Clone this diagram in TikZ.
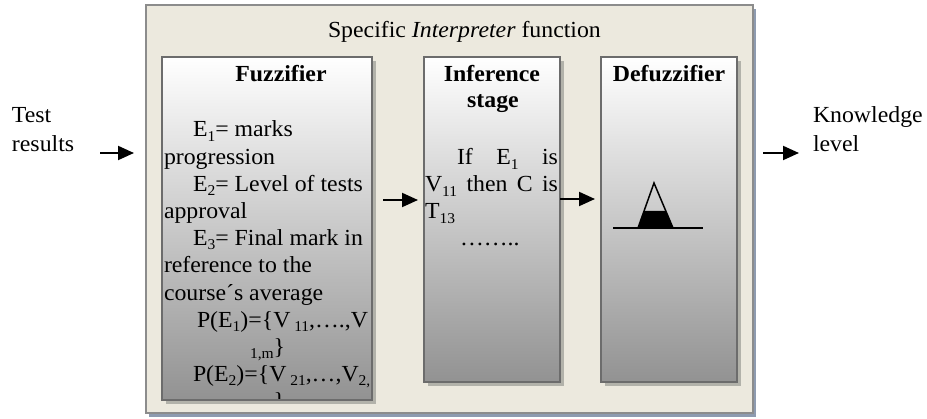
\documentclass[tikz,border=0pt]{standalone}
\usepackage{fontspec}
\setmainfont{Liberation Serif}[FakeStretch=1.035]
\usetikzlibrary{arrows.meta,shadows}
\definecolor{panelbg}{RGB}{236,233,222}
\definecolor{panelrim}{RGB}{140,140,140}
\definecolor{panelshade}{RGB}{142,155,176}
\definecolor{stagerim}{RGB}{108,108,108}
\definecolor{stageshade}{RGB}{178,178,170}
\definecolor{stagelow}{RGB}{146,146,146}
% lowered index, as in E_1 or V_11
\newcommand\lowidx[1]{\raisebox{-0.18em}{\fontsize{15}{15}\selectfont #1}}

\begin{document}
\begin{tikzpicture}[x=1pt,y=-1pt,
  every node/.style={inner sep=0pt,outer sep=0pt,font=\fontsize{23}{27}\selectfont},
  panel/.style={draw=panelrim,line width=2pt,fill=panelbg,rectangle,
     general shadow={fill=panelshade,shadow xshift=3pt,shadow yshift=-4pt}},
  stagebox/.style={draw=stagerim,line width=2.5pt,top color=white,bottom color=stagelow,rectangle,
     general shadow={fill=stageshade,shadow xshift=4pt,shadow yshift=-4pt}},
  txt/.style={anchor=base west},
  head/.style={anchor=base,font=\fontsize{23}{27}\selectfont\bfseries},
  arr/.style={line width=2pt,-{Triangle[length=16pt,width=14pt]}}]

\useasboundingbox (0,0) rectangle (927,419);

% enclosing interpreter panel
\node[panel,minimum width=607pt,minimum height=408pt] (outer) at (449.5,209) {};
\node[txt] (title) at (328,38) {Specific \textit{Interpreter} function};

% the three stages
\node[stagebox,minimum width=210pt,minimum height=343pt] (fuzz) at (267,228.5) {};
\node[stagebox,minimum width=136pt,minimum height=325pt] (inf) at (492,219.5) {};
\node[stagebox,minimum width=136pt,minimum height=325pt] (defz) at (669,219.5) {};

% fuzzifier contents
\node[head] (fhead) at (281,82) {Fuzzifier};
\begin{scope}
  \clip ([shift={(1.3pt,1.3pt)}]fuzz.south west) rectangle ([shift={(-1.3pt,-1.3pt)}]fuzz.north east);
  \node[txt] (f1) at (193,137) {E\lowidx{1}= marks};
  \node[txt] (f2) at (164,164.2) {progression};
  \node[txt] (f3) at (193,191.4) {E\lowidx{2}= Level of tests};
  \node[txt] (f4) at (164,218.6) {approval};
  \node[txt] (f5) at (193,245.8) {E\lowidx{3}= Final mark in};
  \node[txt] (f6) at (164,273) {reference to the};
  \node[txt] (f7) at (164,300.2) {course´s average};
  \node[txt] (f8) at (197,327.4) {P(E\lowidx{1})=\{V\,\lowidx{11},….,V};
  \node[txt] (f9) at (250,354.6) {\lowidx{1,m}\}};
  \node[txt] (f10) at (193,381.8) {P(E\lowidx{2})=\{V\,\lowidx{21},…,V\lowidx{2,}};
  \node[txt] (f11) at (250,409) {\lowidx{2,m}\}};
\end{scope}

% inference contents
\node[head] (ihead1) at (492,82) {Inference};
\node[head] (ihead2) at (493,108) {stage};
\node[txt] (i1) at (457,165) {\hbox to 101pt{If\hfil E\lowidx{1}\hfil is}};
\node[txt] (i2) at (425,192) {\hbox to 133pt{V\lowidx{11}\hfil then\hfil C\hfil is}};
\node[txt] (i3) at (425,219) {T\lowidx{13}};
\node[txt] (i4) at (460,246) {……..};

% defuzzifier contents
\node[head] (dhead) at (669,82) {Defuzzifier};
\fill (644,211) -- (665.8,211) -- (673,228) -- (638,228) -- cycle;
\draw[line width=1.5pt,line join=miter] (654,183) -- (638,228) -- (673,228) -- cycle;
\draw[line width=1.5pt] (613,228) -- (703,228);

% input and output
\node[txt] (tr1) at (12,123) {Test};
\node[txt] (tr2) at (12,152) {results};
\node[txt] (kn1) at (813,123) {Knowledge};
\node[txt] (kn2) at (813,152) {level};
\coordinate (inTail) at (100,153);
\coordinate (outTip) at (799,153);

% connectors
\draw[arr,shorten >=12pt] (inTail) -- (outer.west |- inTail);
\draw[arr,shorten <=11pt,shorten >=6pt] (fuzz.east |- 0,200) -- (inf.west |- 0,200);
\draw[arr,shorten >=6pt] (inf.east |- 0,199) -- (defz.west |- 0,199);
\draw[arr,shorten <=10pt] (outer.east |- outTip) -- (outTip);
\end{tikzpicture}
\end{document}
